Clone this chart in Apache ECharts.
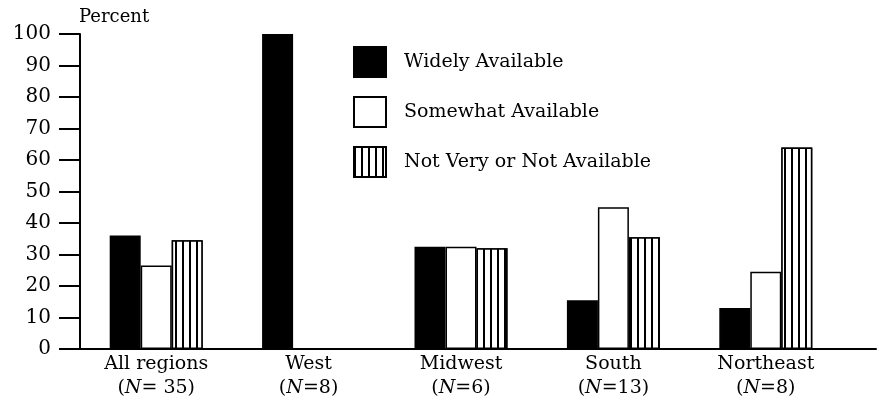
<!DOCTYPE html>
<html lang="en">

<head>
    <title></title>
    <meta charset="UTF-8">
    <script src="https://cdn.jsdelivr.net/npm/echarts@6/dist/echarts.min.js"></script>
</head>
<style>
    body {
        margin: 0;
        padding: 0;
        background: #fff;
    }
</style>

<body>
    <div id="main" style="width: 879px;height:409px;"></div>

    <script type="text/javascript">
        // categories and values
        var regions = ['All regions', 'West', 'Midwest', 'South', 'Northeast'];
        var counts = [' 35', '8', '6', '13', '8'];
        var seriesNames = ['Widely Available', 'Somewhat Available', 'Not Very or Not Available'];
        var widely = [36, 100, 32.5, 15.5, 13];
        var somewhat = [26.5, 0, 32.5, 45, 24.5];
        var notVery = [34.5, 0, 32, 35.5, 64];
        var yTicks = { min: 0, max: 100, step: 10 };

        var font = 'DejaVu Serif';
        var myChart = echarts.init(document.getElementById('main'));

        var categoryLabels = regions.map(function (r, i) {
            return r + '\n({i|N}=' + counts[i] + ')';
        });

        function barSeries(name, data, style) {
            return {
                name: name,
                type: 'bar',
                xAxisIndex: 0,
                yAxisIndex: 0,
                barWidth: 31,
                barGap: '0%',
                itemStyle: style,
                data: data
            };
        }

        option = {
            backgroundColor: '#fff',
            animation: false,
            textStyle: { fontFamily: font, color: '#000' },
            title: {
                text: 'Percent',
                left: 74,
                top: 3,
                textStyle: { fontFamily: font, fontSize: 18, fontWeight: 'normal', color: '#000' }
            },
            legend: {
                orient: 'vertical',
                left: 353,
                top: 46,
                padding: 0,
                icon: 'rect',
                itemWidth: 32,
                itemHeight: 30,
                itemGap: 18,
                selectedMode: false,
                textStyle: { fontFamily: font, fontSize: 19, color: '#000', padding: [0, 0, 0, 13] },
                data: seriesNames
            },
            grid: [
                { left: 80, right: 37, top: 34, bottom: 60 },
                { left: 80, right: 3, top: 34, bottom: 60 }
            ],
            xAxis: [{
                type: 'category',
                gridIndex: 0,
                data: categoryLabels,
                axisLine: { lineStyle: { color: '#000', width: 2 } },
                axisTick: { show: false },
                axisLabel: {
                    color: '#000',
                    fontFamily: font,
                    fontSize: 19,
                    lineHeight: 24,
                    margin: 3,
                    rich: {
                        i: { fontFamily: font, fontSize: 19, fontStyle: 'italic', lineHeight: 24, color: '#000' }
                    }
                }
            }, {
                // only to carry the baseline out to the right edge
                type: 'value',
                gridIndex: 1,
                axisLine: { show: true, lineStyle: { color: '#000', width: 2 } },
                axisTick: { show: false },
                axisLabel: { show: false },
                splitLine: { show: false }
            }],
            yAxis: [{
                type: 'value',
                gridIndex: 0,
                min: yTicks.min,
                max: yTicks.max,
                interval: yTicks.step,
                axisLine: { show: true, lineStyle: { color: '#000', width: 2 } },
                axisTick: { show: true, length: 21, lineStyle: { color: '#000', width: 2 } },
                splitLine: { show: false },
                axisLabel: { color: '#000', fontFamily: font, fontSize: 20, margin: 29 }
            }, {
                type: 'value',
                gridIndex: 1,
                show: false
            }],
            series: [
                barSeries(seriesNames[0], widely, { color: '#000', borderColor: '#000', borderWidth: 1.5 }),
                barSeries(seriesNames[1], somewhat, { color: '#fff', borderColor: '#000', borderWidth: 1.5 }),
                barSeries(seriesNames[2], notVery, {
                    color: '#fff',
                    borderColor: '#000',
                    borderWidth: 1.5,
                    decal: {
                        symbol: 'rect',
                        symbolSize: 1,
                        dashArrayX: [1.5, 4.5],
                        dashArrayY: [4, 0],
                        color: '#000',
                        backgroundColor: '#fff'
                    }
                })
            ]
        };
        myChart.setOption(option);
    </script>
</body>

</html>
